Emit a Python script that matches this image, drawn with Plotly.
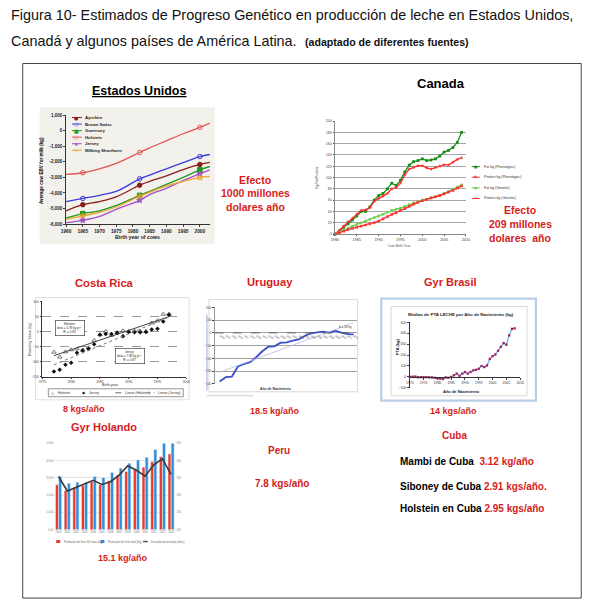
import numpy as np
import plotly.graph_objects as go

W, H = 600, 610
FONT = "Liberation Sans, Arial, Helvetica, sans-serif"
RED = "#d41c1c"

# ---------------- Estados Unidos ----------------
us_years = [1960, 1965, 1970, 1975, 1982, 1985, 1990, 1995, 2000, 2003]
us_marker_years = [1965, 1982, 2000]
us_ayrshire = [-5150, -4750, -4550, -4250, -3500, -3250, -2900, -2500, -2170, -2040]
us_brown_swiss = [-4550, -4350, -4150, -3900, -3090, -2850, -2450, -2050, -1660, -1530]
us_guernsey = [-5600, -5320, -5150, -4800, -4150, -3900, -3450, -3000, -2510, -2300]
us_holstein = [-2810, -2700, -2450, -2100, -1400, -1100, -650, -200, 210, 490]
us_jersey = [-5900, -5750, -5500, -5050, -4470, -4100, -3700, -3200, -2770, -2510]
us_shorthorn = [-5700, -5470, -5250, -4900, -4210, -3950, -3550, -3250, -3020, -2940]
us_breeds = ["Ayrshire", "Brown Swiss", "Guernsey", "Holstein", "Jersey", "Milking Shorthorn"]
us_xticks = [1960, 1965, 1970, 1975, 1980, 1985, 1990, 1995, 2000]
us_yticks = [1000, 0, -1000, -2000, -3000, -4000, -5000, -6000]

# ---------------- Canada ----------------
ca_years = [1980, 1981, 1982, 1983, 1984, 1985, 1986, 1987, 1988, 1989,
            1990, 1991, 1992, 1993, 1994, 1995, 1996, 1997, 1998, 1999,
            2000, 2001, 2002, 2003, 2004, 2005, 2006, 2007, 2008, 2009]
ca_fat_phen = [0, 5, 12, 18, 25, 32, 40, 40, 48, 60, 68, 72, 80, 90, 86, 95, 110, 122, 128, 130,
               133, 130, 131, 133, 138, 145, 148, 153, 162, 180]
ca_prot_phen = [0, 7, 14, 22, 28, 35, 42, 43, 47, 58, 63, 67, 72, 80, 82, 90, 105, 115, 118, 121,
                121, 117, 115, 118, 120, 123, 122, 127, 132, 135]
ca_fat_gen = [0, 3, 6, 10, 14, 17, 20, 23, 26, 29, 32, 35, 39, 42, 44, 46, 49, 52, 55, 57,
              60, 62, 64, 66, 69, 72, 75, 79, 83, 87]
ca_prot_gen = [0, 2, 5, 8, 10, 12, 14, 16, 18, 20, 23, 27, 31, 35, 38, 42, 45, 49, 53, 56,
               59, 61, 64, 66, 68, 71, 74, 77, 81, 85]
ca_series_names = ["Fat kg (Phenotypic)", "Protein kg (Phenotypic)", "Fat kg (Genetic)", "Protein kg (Genetic)"]

# ---------------- Costa Rica ----------------
cr_years = [1977, 1978, 1979, 1980, 1981, 1982, 1983, 1984, 1985, 1986, 1987,
            1988, 1989, 1990, 1991, 1992, 1993, 1994, 1995, 1996, 1997]
cr_holstein = [-68, -84, -67, -60, -57, -62, -53, -29, -10, 1, -12, -4, 3, 1, 3, 1, 1, 29, 36, 58, 58]
cr_jersey = [-132, -126, -110, -103, -70, -62, -57, -42, -10, -8, -8, -4, -15, -1, -2, -2, -1, 7, 10, 34, 56]

# ---------------- Uruguay ----------------
uy_years = [1990, 1991, 1992, 1993, 1994, 1995, 1996, 1997, 1998, 1999, 2000, 2001,
            2002, 2003, 2004, 2005, 2006, 2007, 2008, 2009, 2010, 2011, 2012]
uy_values = [-382, -348, -343, -264, -243, -230, -191, -144, -108, -105, -77, -74,
             -61, -50, -22, -4, 4, 10, 2, 17, 2, -9, -11]

# ---------------- Gyr Brasil ----------------
gb_years = [1970, 1971, 1972, 1973, 1974, 1975, 1976, 1977, 1978, 1979,
            1980, 1981, 1982, 1983, 1984, 1985, 1986, 1987, 1988, 1989,
            1990, 1991, 1992, 1993, 1994, 1995, 1996, 1997, 1998, 1999,
            2000, 2001, 2002, 2003, 2004, 2005, 2006, 2007, 2008]
gb_pta = [0, 2, 3, -3, -2, -2, -2, -4, -5, -8,
          -12, -15, -20, -5, -8, 0, 15, 30, 10, 30,
          45, 30, 45, 60, 65, 75, 100, 90, 105, 165,
          190, 205, 240, 275, 310, 295, 380, 440, 445]

# ---------------- Gyr Holando ----------------
gh_years = ["2000", "2001", "2002", "2003", "2004", "2005", "2006",
            "2007", "2008", "2009", "2010", "2011", "2012", "2013"]
gh_milk_305 = [2600, 2270, 2460, 2560, 2790, 2600, 2830, 3170, 3370, 3500, 3620, 3940, 4230, 4390]
gh_milk_total = [3080, 2690, 2750, 2750, 3080, 3020, 3310, 3560, 3850, 4040, 4190, 4650, 5000, 5000]
gh_lactation = [354, 312, 322, 333, 343, 331, 339, 358, 385, 372, 355, 388, 405, 360]
gh_names = ["Produção de leite 305 dias (kg)", "Produção de leite total (kg)", "Duração da lactação (dias)"]


def xd(a, b):
    return [a / W, b / W]


def yd(top, bottom):
    return [1 - bottom / H, 1 - top / H]


fig = go.Figure()
ann = []
shp = []


def txt(x, y, s, size, color="#000", bold=False, xanchor="center", angle=0, family=FONT, **kw):
    d = dict(x=x / W, y=1 - y / H, xref="paper", yref="paper",
             text=f"<b>{s}</b>" if bold else s, showarrow=False,
             xanchor=xanchor, yanchor="middle", textangle=angle,
             font=dict(size=size, color=color, family=family))
    d.update(kw)
    ann.append(d)


def rect(x0, y0, x1, y1, color="#bbb", width=1, fill=None, layer="below"):
    shp.append(dict(type="rect", xref="paper", yref="paper", x0=x0 / W, x1=x1 / W,
                    y0=1 - y1 / H, y1=1 - y0 / H, line=dict(color=color, width=width),
                    fillcolor=fill if fill else "rgba(0,0,0,0)", layer=layer))


def hline(x0, x1, y, color, width=1, dash="solid"):
    shp.append(dict(type="line", xref="paper", yref="paper", x0=x0 / W, x1=x1 / W,
                    y0=1 - y / H, y1=1 - y / H, line=dict(color=color, width=width, dash=dash)))


def vline(x, y0, y1, color, width=1):
    shp.append(dict(type="line", xref="paper", yref="paper", x0=x / W, x1=x / W,
                    y0=1 - y0 / H, y1=1 - y1 / H, line=dict(color=color, width=width)))


# ================= Estados Unidos =================
rect(35, 106, 213, 244, color="rgba(0,0,0,0)", width=0, fill="#f3f1ec")
us_data = [us_ayrshire, us_brown_swiss, us_guernsey, us_holstein, us_jersey, us_shorthorn]
us_colors = ["#8b1c1c", "#3b3bdb", "#1f9a1f", "#e05555", "#a050c8", "#f0a030"]
us_symbols = ["circle", "circle-open", "square", "circle-open", "star", "star-open"]
us_glyphs = ["●", "○", "■", "○", "★", "☆"]
for name, vals, col, sym in zip(us_breeds, us_data, us_colors, us_symbols):
    fig.add_trace(go.Scatter(x=us_years, y=vals, mode="lines", line=dict(color=col, width=1.3, shape="spline"),
                             xaxis="x", yaxis="y", name=name, hoverinfo="skip"))
    mx = [yr for yr in us_years if yr in us_marker_years]
    my = [v for yr, v in zip(us_years, vals) if yr in us_marker_years]
    fig.add_trace(go.Scatter(x=mx, y=my, mode="markers", marker=dict(symbol=sym, color=col, size=4.5,
                             line=dict(color=col, width=1)), xaxis="x", yaxis="y", cliponaxis=False,
                             hoverinfo="skip"))
for i, (name, col, g) in enumerate(zip(us_breeds, us_colors, us_glyphs)):
    yy = 116.5 + i * 6.6
    hline(68, 78, yy, col, 1)
    txt(73, yy, f'<span style="color:{col}">{g}</span>', 5, family="DejaVu Sans")
    txt(79.5, yy, name, 4.3, color="#222", bold=True, xanchor="left")
txt(137, 90, "<u>Estados Unidos</u>", 12.5, bold=True)
txt(37, 170, "Average cow EBV for milk (kg)", 4.6, bold=True, angle=-90)
txt(135, 237, "Birth year of cows", 5.2, color="#222", bold=True)
txt(254, 179, "Efecto", 10.5, color=RED, bold=True)
txt(254, 193, "1000 millones", 10.5, color=RED, bold=True)
txt(254, 207, "dolares año", 10.5, color=RED, bold=True)

# ================= Canada =================
ca_data = [ca_fat_phen, ca_prot_phen, ca_fat_gen, ca_prot_gen]
ca_colors = ["#1a8c1a", "#ff2a2a", "#6ccf4f", "#ff3030"]
ca_symbols = ["square", "star", "circle", "x"]
ca_glyphs = ["■", "✱", "●", "✕"]
for name, vals, col, sym in zip(ca_series_names, ca_data, ca_colors, ca_symbols):
    fig.add_trace(go.Scatter(x=ca_years, y=vals, mode="lines+markers", line=dict(color=col, width=1.3),
                             marker=dict(symbol=sym, size=2.8, color=col, line=dict(width=0)),
                             xaxis="x2", yaxis="y2", name=name, cliponaxis=False, hoverinfo="skip"))
for i, (name, col, g) in enumerate(zip(ca_series_names, ca_colors, ca_glyphs)):
    yy = 166 + i * 10.7
    hline(474, 482, yy, col, 1)
    txt(478, yy, f'<span style="color:{col}">{g}</span>', 3.5, family="DejaVu Sans")
    txt(484, yy, name, 3.6, color="#333", xanchor="left")
txt(443, 82, "Canada", 13, bold=True)
txt(316, 177, "Kg Fat/Protein", 3.4, color="#333", angle=-90)
txt(400, 246, "Cow Birth Year", 3.4, color="#555")
txt(523, 210, "Efecto", 10.5, color=RED, bold=True)
txt(523, 224, "209 millones", 10.5, color=RED, bold=True)
txt(523, 238, "dolares  año", 10.5, color=RED, bold=True)

# ================= Costa Rica =================
rect(31, 298, 187, 401, color="#d8d8d8", width=0.8)
fig.add_trace(go.Scatter(x=cr_years, y=cr_holstein, mode="markers", xaxis="x3", yaxis="y3", name="Holstein",
                         marker=dict(symbol="triangle-up-open", size=4, color="#555", line=dict(width=0.8)),
                         cliponaxis=False, hoverinfo="skip"))
fig.add_trace(go.Scatter(x=cr_years, y=cr_jersey, mode="markers", xaxis="x3", yaxis="y3", name="Jersey",
                         marker=dict(symbol="diamond", size=3.5, color="#111"), cliponaxis=False, hoverinfo="skip"))
for vals, dash, col in [(cr_holstein, "solid", "#444"), (cr_jersey, "dot", "#777")]:
    b, a = np.polyfit(cr_years, vals, 1)
    xs = [cr_years[0], cr_years[-1]]
    fig.add_trace(go.Scatter(x=xs, y=[a + b * v for v in xs], mode="lines", xaxis="x3", yaxis="y3",
                             line=dict(color=col, width=1, dash=dash), hoverinfo="skip"))
txt(101, 283, "Costa Rica", 11.2, color=RED, bold=True)
txt(26, 340, "Breeding Value (kg)", 3.8, color="#333", angle=-90)
txt(107, 386, "Birth year", 3.8, color="#333")
txt(66, 329, "Holstein<br>beta = 5.79 kg yr<sup>-1</sup><br>R² = 0.92", 3, color="#222",
    bordercolor="#444", borderwidth=0.7, bgcolor="white", borderpad=1.5)
txt(127, 357, "Jersey<br>beta = 7.98 kg yr<sup>-1</sup><br>R² = 0.87", 3, color="#222",
    bordercolor="#444", borderwidth=0.7, bgcolor="white", borderpad=1.5)
rect(44, 390, 181, 398, color="#666", width=0.7, layer="above")
txt(49, 394, "△", 4, color="#444", family="DejaVu Sans")
txt(52, 394, "Holstein", 3.4, color="#333", xanchor="left")
txt(80, 394, "◆", 4, color="#111", family="DejaVu Sans")
txt(83, 394, "Jersey", 3.4, color="#333", xanchor="left")
hline(112, 118, 394, "#444", 0.8)
txt(120, 394, "Linear (Holstein)", 3.4, color="#333", xanchor="left")
hline(145, 152, 394, "#777", 0.8, "dot")
txt(153, 394, "Linear (Jersey)", 3.4, color="#333", xanchor="left")
txt(80, 410, "8 kgs/año", 9, color=RED, bold=True)

# ================= Uruguay =================
rect(207, 300, 358, 393, color="#d0d0d0", width=0.8)
vline(205, 315, 392, "#a9bcdc", 1.2)
hline(205, 252, 397, "#cfcfcf", 1)
fig.add_trace(go.Scatter(x=uy_years, y=uy_values, mode="lines", xaxis="x4", yaxis="y4",
                         line=dict(color="#3a4fc8", width=1.8), hoverinfo="skip"))
b_uy, a_uy = np.polyfit(uy_years, uy_values, 1)
xs = [uy_years[0], uy_years[-1]]
fig.add_trace(go.Scatter(x=xs, y=[a_uy + b_uy * v for v in xs], mode="lines", xaxis="x4", yaxis="y4",
                         line=dict(color="#b8bde8", width=0.8), hoverinfo="skip"))
shp.append(dict(type="line", xref="x4 domain", yref="y4", x0=0, x1=1, y0=0, y1=0,
                line=dict(color="#555", width=0.8, dash="dash")))
txt(269, 282, "Uruguay", 11.2, color=RED, bold=True)
txt(346, 328, "b = 18 kg", 3, color="#333")
txt(275, 390, "Año de Nacimiento", 3.4, color="#333", bold=True)
txt(274, 412, "18.5 kg/año", 9, color=RED, bold=True)

# ================= Gyr Brasil =================
rect(382, 299, 539, 402, color="#b9cde6", width=2.2)
rect(392, 307, 530, 397, color="#c8c8c8", width=0.7)
fig.add_trace(go.Scatter(x=gb_years, y=gb_pta, mode="lines+markers", xaxis="x5", yaxis="y5",
                         line=dict(color="#6aaee0", width=1.2),
                         marker=dict(symbol="square", size=2.3, color="#a0205e"),
                         cliponaxis=False, hoverinfo="skip"))
txt(452, 282, "Gyr Brasil", 11, color=RED, bold=True)
txt(463, 315, "Medias de PTA LECHE por Año de Nacimiento (kg)", 4.4, color="#222", bold=True)
txt(398, 348, "PTA (kg)", 4, color="#222", bold=True, angle=-90)
txt(463, 393, "Año de Nacimiento", 4, color="#222", bold=True)
txt(455, 412, "14 kgs/año", 9, color=RED, bold=True)

# ================= Gyr Holando =================
fig.add_trace(go.Bar(x=gh_years, y=gh_milk_305, marker_color="#e8392b", xaxis="x6", yaxis="y6",
                     name=gh_names[0], hoverinfo="skip"))
fig.add_trace(go.Bar(x=gh_years, y=gh_milk_total, marker_color="#2f8fd8", xaxis="x6", yaxis="y6",
                     name=gh_names[1], hoverinfo="skip"))
fig.add_trace(go.Scatter(x=gh_years, y=gh_lactation, mode="lines", xaxis="x6", yaxis="y7",
                         line=dict(color="#3a3a3a", width=1.6), name=gh_names[2], hoverinfo="skip"))
txt(100, 429, "Gyr Holando", 11, color=RED, bold=True)
for i, (name, col) in enumerate(zip(gh_names, ["#e8392b", "#2f8fd8", "#555"])):
    x0 = [52, 97, 140][i]
    if i < 2:
        rect(x0, 542.5, x0 + 4, 545.5, color=col, width=0, fill=col, layer="above")
    else:
        hline(x0, x0 + 5, 544, col, 1.5)
    txt(x0 + 6, 544, name, 2.8, color="#666", xanchor="left")
txt(120, 561, "15.1 kg/año", 9, color=RED, bold=True)

# ================= Peru / Cuba =================
txt(278, 452, "Peru", 10, color=RED, bold=True)
txt(281, 485, "7.8 kgs/año", 10, color=RED, bold=True)
txt(456, 437, "Cuba", 10, color=RED, bold=True)
txt(399, 463, f'Mambi de Cuba  <span style="color:{RED}">3.12 kg/año</span>', 10, bold=True, xanchor="left")
txt(399, 488, f'Siboney de Cuba <span style="color:{RED}">2.91 kgs/año.</span>', 10, bold=True, xanchor="left")
txt(399, 511, f'Holstein en Cuba <span style="color:{RED}">2.95 kgs/año</span>', 10, bold=True, xanchor="left")

# ================= Header and frame =================
txt(4, 13, "Figura 10- Estimados de Progreso Genético en producción de leche en Estados Unidos,", 14.4,
    color="#111", xanchor="left")
txt(4, 39, "Canadá y algunos países de América Latina.", 14.4, color="#111", xanchor="left")
txt(303, 40, "(adaptado de diferentes fuentes)", 10.6, color="#111", bold=True, xanchor="left")
rect(18, 62, 585, 601, color="#444", width=1)

# ================= axes =================
tf = lambda s, c="#222", w="normal": dict(size=s, color=c, family=FONT, weight=w)
base = dict(showgrid=False, zeroline=False, ticks="outside", ticklen=2, tickwidth=0.7, showline=True,
            linewidth=0.8, linecolor="#333")
fig.update_layout(
    width=W, height=H, autosize=False, margin=dict(l=0, r=0, t=0, b=0),
    paper_bgcolor="white", plot_bgcolor="rgba(0,0,0,0)", showlegend=False,
    barmode="group", bargap=0.28, bargroupgap=0.05,
    font=dict(family=FONT),
    xaxis=dict(base, domain=xd(62, 208), anchor="y", range=[1960, 2003], tickvals=us_xticks,
               tickfont=tf(4.8, "#222", "bold")),
    yaxis=dict(base, domain=yd(114, 224), anchor="x", range=[-6000, 1000], tickvals=us_yticks,
               ticktext=[f"{v:,}" for v in us_yticks], tickfont=tf(4.5, "#222", "bold")),
    xaxis2=dict(base, domain=xd(335, 468), anchor="y2", range=[1980, 2010], dtick=5, tickfont=tf(3.8, "#444"),
                linecolor="#888", ticklen=1.5),
    yaxis2=dict(base, domain=yd(120, 234), anchor="x2", range=[0, 200], dtick=20, tickfont=tf(3.6, "#444"),
                showgrid=True, gridcolor="#a8a8a8", gridwidth=0.7, linecolor="#888", ticklen=1.5),
    xaxis3=dict(base, domain=xd(38, 184), anchor="y3", range=[1975, 2000], dtick=5, tickfont=tf(3.4, "#444"),
                ticklen=1),
    yaxis3=dict(base, domain=yd(302, 378), anchor="x3", range=[-150, 100], dtick=50, tickfont=tf(3.4, "#444"),
                showgrid=True, gridcolor="#999", gridwidth=0.7, griddash="dash"),
    xaxis4=dict(domain=xd(213, 357), anchor="free", position=1 - 333.7 / H, range=[1989.2, 2012.5], dtick=1,
                showgrid=False, zeroline=False, showline=False, ticks="", tickfont=tf(2.6, "#555")),
    yaxis4=dict(base, domain=yd(308, 385), anchor="x4", range=[-400, 200], dtick=100, tickfont=tf(3.2, "#444"),
                showgrid=True, gridcolor="#a0a0a0", gridwidth=0.8, linecolor="#999"),
    xaxis5=dict(base, domain=xd(411, 523), anchor="free", position=1 - 378 / H, range=[1970, 2010], dtick=5,
                tickfont=tf(3.4, "#333")),
    yaxis5=dict(base, domain=yd(323, 389), anchor="x5", range=[-100, 500], dtick=100, tickfont=tf(3.4, "#333")),
    xaxis6=dict(domain=xd(50, 173), anchor="y6", type="category", showgrid=False, showline=False,
                zeroline=False, ticks="", tickfont=tf(2.7, "#777")),
    yaxis6=dict(domain=yd(445, 532), anchor="x6", range=[0, 5000], tickvals=[0, 1000, 2000, 3000, 4000, 5000],
                ticktext=["0,00", "1.000", "2.000", "3.000", "4.000", "5.000"], showgrid=True,
                gridcolor="#e4e4e4", gridwidth=0.7, zeroline=False, showline=False, tickfont=tf(2.8, "#888")),
    yaxis7=dict(overlaying="y6", side="right", anchor="x6", range=[200, 450], dtick=50, showgrid=False,
                zeroline=False, showline=False, tickfont=tf(2.8, "#888")),
    annotations=ann, shapes=shp,
)

fig.write_html("out.html", config={"displayModeBar": False},
               post_script="document.body.style.margin='0px';document.body.style.overflow='hidden';")
